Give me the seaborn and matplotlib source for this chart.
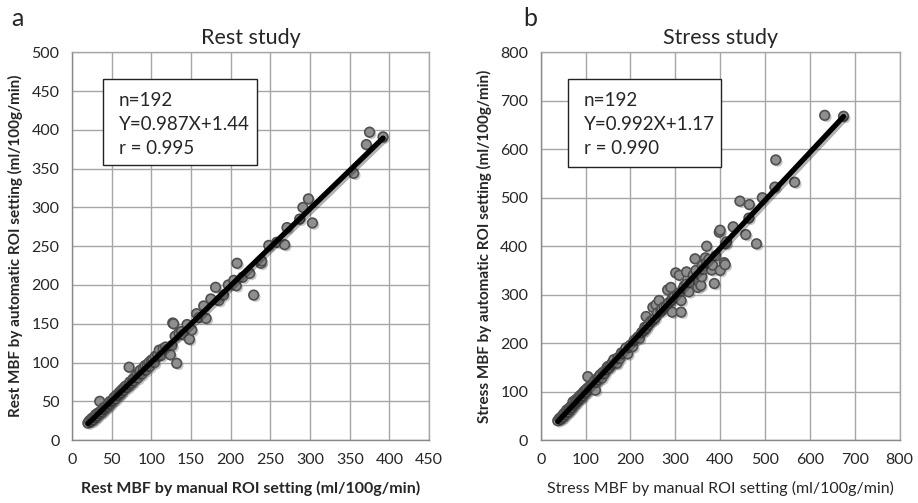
import numpy as np
import pandas as pd
import matplotlib
matplotlib.use("Agg")
import matplotlib.pyplot as plt
import matplotlib.patheffects as pe
from matplotlib.patches import Rectangle
import seaborn as sns

# Rest study: manual vs automatic ROI (ml/100g/min)
rest_manual = [20, 22, 24, 25, 27, 28, 30, 30, 32, 33, 35, 35, 36, 38, 40, 40, 42, 43, 45, 46,
               48, 48, 50, 52, 53, 55, 56, 58, 60, 60, 62, 63, 65, 66, 68, 70, 72, 72, 73, 75,
               77, 78, 80, 82, 83, 85, 86, 88, 90, 92, 93, 95, 97, 98, 100, 102, 104, 105, 108, 110,
               112, 115, 118, 120, 124, 126, 127, 128, 130, 132, 135, 138, 140, 145, 148, 151, 157, 160, 166, 169,
               175, 181, 185, 191, 197, 204, 207, 208, 215, 224, 229, 238, 239, 248, 258, 268, 271, 287, 291, 298,
               303, 355, 371, 375, 392]
rest_auto = [22, 25, 24, 28, 26, 30, 29, 33, 31, 35, 50, 34, 37, 36, 39, 42, 41, 44, 43, 47,
             46, 50, 49, 51, 55, 53, 58, 57, 62, 59, 61, 65, 64, 68, 70, 68, 94, 71, 75, 73,
             79, 76, 82, 85, 80, 88, 90, 85, 93, 96, 90, 97, 100, 95, 103, 104, 100, 108, 110, 116,
             109, 118, 120, 117, 110, 122, 151, 150, 134, 99, 138, 140, 136, 149, 130, 142, 163, 158, 173, 157,
             182, 197, 180, 187, 200, 206, 199, 228, 210, 215, 187, 228, 231, 251, 255, 252, 274, 285, 300, 311,
             280, 344, 381, 397, 391]

# Stress study
stress_manual = [38, 42, 45, 48, 50, 52, 55, 57, 58, 60, 62, 64, 66, 68, 70, 72, 74, 76, 78, 80,
                 82, 84, 86, 87, 88, 90, 92, 94, 96, 98, 100, 102, 104, 105, 108, 110, 112, 115, 118, 120,
                 122, 124, 126, 128, 130, 133, 136, 139, 142, 146, 148, 150, 153, 156, 160, 163, 166, 170, 172, 176,
                 180, 184, 188, 190, 194, 198, 200, 205, 208, 212, 217, 220, 225, 230, 232, 235, 235, 240, 245, 250,
                 250, 255, 257, 260, 264, 268, 270, 275, 280, 283, 285, 290, 291, 293, 294, 298, 301, 305, 309, 310,
                 313, 313, 318, 320, 325, 325, 330, 335, 340, 344, 346, 350, 352, 357, 359, 360, 362, 367, 370, 370,
                 375, 381, 383, 387, 390, 398, 400, 400, 409, 411, 412, 414, 429, 444, 457, 464, 465, 481, 494, 522,
                 524, 566, 633, 675]
stress_auto = [40, 45, 43, 50, 47, 55, 52, 57, 62, 60, 58, 66, 63, 70, 67, 79, 72, 76, 83, 78,
               82, 88, 85, 90, 92, 87, 95, 91, 100, 96, 103, 99, 107, 131, 104, 112, 108, 115, 113, 122,
               103, 119, 127, 124, 131, 135, 128, 140, 137, 145, 150, 152, 149, 155, 160, 166, 158, 159, 170, 168,
               180, 178, 185, 190, 178, 191, 196, 193, 205, 208, 213, 210, 222, 226, 233, 231, 255, 238, 245, 248,
               274, 252, 279, 262, 288, 266, 271, 275, 278, 310, 283, 315, 288, 264, 294, 296, 345, 300, 340, 304,
               288, 264, 313, 318, 347, 322, 306, 325, 340, 374, 350, 315, 328, 319, 337, 360, 352, 376, 400, 366,
               373, 351, 361, 323, 380, 429, 350, 433, 366, 362, 405, 409, 440, 493, 424, 458, 486, 405, 500, 522,
               578, 532, 670, 668]

rest = pd.DataFrame({"manual": rest_manual, "auto": rest_auto})
stress = pd.DataFrame({"manual": stress_manual, "auto": stress_auto})

panels = [
    dict(df=rest, letter="a", letter_x=-0.17, title="Rest study", xmax=450, xstep=50, ymax=500, ystep=50,
         xlabel="Rest MBF by manual ROI setting (ml/100g/min)", xweight="bold",
         ylabel="Rest MBF by automatic ROI setting (ml/100g/min)",
         stats=["n=192", "Y=0.987X+1.44", "r = 0.995"],
         pos=[0.0784, 0.125, 0.389, 0.771], box=(0.087, 0.709, 0.431, 0.221)),
    dict(df=stress, letter="b", letter_x=-0.05, title="Stress study", xmax=800, xstep=100, ymax=800, ystep=100,
         xlabel="Stress MBF by manual ROI setting (ml/100g/min)", xweight="normal",
         ylabel="Stress MBF by automatic ROI setting (ml/100g/min)",
         stats=["n=192", "Y=0.992X+1.17", "r = 0.990"],
         pos=[0.589, 0.125, 0.391, 0.771], box=(0.075, 0.704, 0.427, 0.226)),
]

sns.set_style("white")
plt.rcParams["font.family"] = ["Lato", "DejaVu Sans"]

fig = plt.figure(figsize=(9.18, 5.03), dpi=100)
shadow = [pe.SimplePatchShadow(offset=(1.5, -1.5), alpha=0.25), pe.Normal()]

for p in panels:
    ax = fig.add_axes(p["pos"])
    sns.regplot(data=p["df"], x="manual", y="auto", ax=ax, ci=None, truncate=True,
                scatter_kws=dict(s=48, color="#8f8f8f", edgecolor="#505050", linewidths=1.2,
                                 alpha=1, zorder=3),
                line_kws=dict(color="black", lw=3.8, zorder=4, solid_capstyle="round"))
    ax.collections[0].set_path_effects(shadow)
    ax.lines[0].set_path_effects([pe.SimpleLineShadow(offset=(1.5, -1.5), alpha=0.3), pe.Normal()])

    ax.set_xlim(0, p["xmax"])
    ax.set_ylim(0, p["ymax"])
    ax.set_xticks(np.arange(0, p["xmax"] + 1, p["xstep"]))
    ax.set_yticks(np.arange(0, p["ymax"] + 1, p["ystep"]))
    ax.grid(True, color="#a6a6a6", lw=1)
    ax.set_axisbelow(True)
    for s in ax.spines.values():
        s.set_color("#a6a6a6")
        s.set_linewidth(1)
    ax.spines["left"].set_color("#888888")
    ax.spines["bottom"].set_color("#888888")
    ax.tick_params(length=0, labelsize=11.5, pad=9)

    ax.set_xlabel(p["xlabel"], fontsize=11.5, fontweight=p["xweight"], labelpad=10)
    ax.set_ylabel(p["ylabel"], fontsize=11, fontweight="bold", labelpad=6)
    ax.set_title(p["title"], fontsize=15.5, pad=6)
    ax.text(p["letter_x"], 1.088, p["letter"], transform=ax.transAxes, fontsize=18, va="center")

    bx, by, bw, bh = p["box"]
    ax.add_patch(Rectangle((bx, by), bw, bh, transform=ax.transAxes, facecolor="white",
                           edgecolor="#222222", lw=1, zorder=5))
    for i, line in enumerate(p["stats"]):
        ax.text(bx + 0.045, by + bh - 0.055 - i * 0.062, line, transform=ax.transAxes,
                fontsize=13.5, va="center", ha="left", zorder=6)

fig.savefig("out.png", dpi=100)
